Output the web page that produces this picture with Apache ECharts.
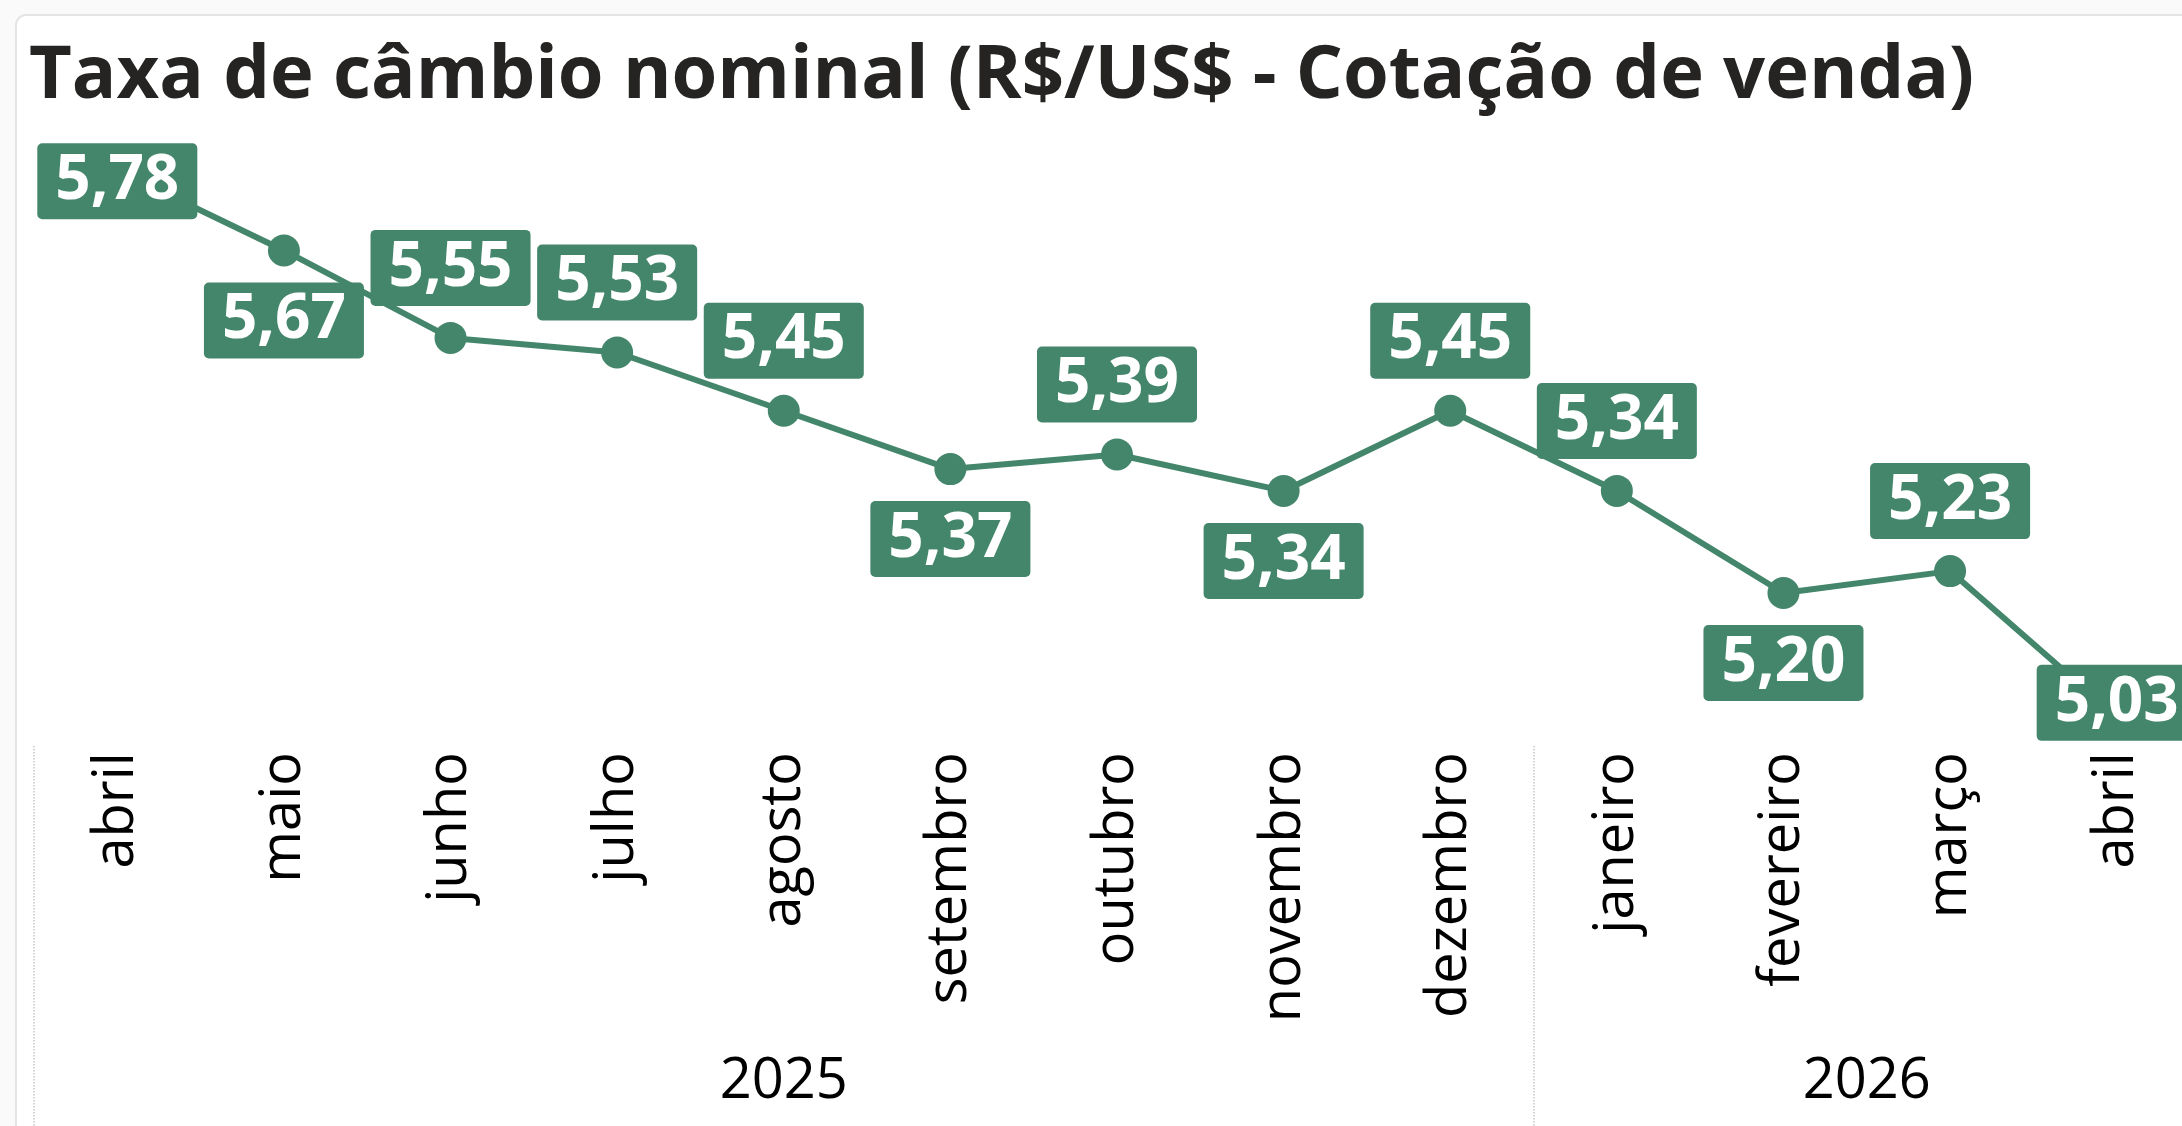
<!DOCTYPE html>
<html>
<head>
<meta charset="utf-8">
<title>Taxa de câmbio nominal</title>
<script src="https://cdn.jsdelivr.net/npm/echarts@6/dist/echarts.min.js"></script>
<style>
  html, body { margin: 0; padding: 0; background: #fafafa; overflow: hidden; }
  #chart { width: 2216px; height: 1126px; }
</style>
</head>
<body>
<div id="chart"></div>
<script>
// dados
var meses = ["abril", "maio", "junho", "julho", "agosto", "setembro", "outubro",
    "novembro", "dezembro", "janeiro", "fevereiro", "março", "abril"];
var cotacao = [5.78, 5.67, 5.55, 5.53, 5.45, 5.37, 5.39, 5.34, 5.45, 5.34, 5.20, 5.23, 5.03];
var anos = ["2025", "2026"];
var mesesPorAno = [9, 4];

var verde = "#44866c";

// onde cada ano começa/termina e o meio de cada ano no eixo de valores
var limitesAno = [], meioAno = [], ini = 0;
mesesPorAno.forEach(function (n) {
    limitesAno.push(ini - 0.5);
    meioAno.push(ini + (n - 1) / 2);
    ini += n;
});

function fmt(v) {
    return v.toFixed(2).replace(".", ",");
}

// rótulo acima, abaixo ou sobre o ponto
function ladoRotulo(i) {
    var n = cotacao.length;
    if (i == 0 || i == n - 1) return "inside";
    if (i == 1) return "bottom";
    var v = cotacao[i];
    if (v <= cotacao[i - 1] && v <= cotacao[i + 1]) return "bottom";
    return "top";
}

var dados = cotacao.map(function (v, i) {
    var lado = ladoRotulo(i);
    var item = {value: v, label: {position: lado}};
    if (lado == "inside") item.label.offset = [0, i == 0 ? 11 : -14];
    return item;
});

var chart = echarts.init(document.getElementById("chart"));
chart.setOption({
    backgroundColor: "#fafafa",
    animation: false,
    graphic: [{
        type: "rect", silent: true, z: -10,
        shape: {x: 16, y: 15, width: 2220, height: 1200, r: 10},
        style: {fill: "#ffffff", stroke: "#e4e4e4", lineWidth: 2}
    }],
    title: {
        text: "Taxa de câmbio nominal (R$/US$ - Cotação de venda)",
        left: 24, top: 35,
        textStyle: {fontFamily: "Open Sans", fontWeight: "bold", fontSize: 74, color: "#252423"}
    },
    grid: {left: 34, top: 163, right: 16, bottom: 380, containLabel: false},
    xAxis: [{
        type: "category",
        data: meses,
        boundaryGap: true,
        axisLine: {show: false},
        axisTick: {show: false},
        axisLabel: {
            rotate: 90, margin: 6, interval: 0,
            fontFamily: "Open Sans", fontSize: 56, color: "#000"
        }
    }, {
        type: "value",
        position: "bottom",
        min: -0.5, max: meses.length - 0.5,
        axisLine: {show: false},
        splitLine: {show: false},
        axisTick: {
            show: true, customValues: limitesAno, length: 400,
            lineStyle: {type: "dotted", color: "#c8c8c8", width: 1.5}
        },
        axisLabel: {
            customValues: meioAno, margin: 308,
            formatter: function (v) {
                var k = meioAno.indexOf(v);
                return k >= 0 ? anos[k] : "";
            },
            fontFamily: "Open Sans", fontSize: 56, color: "#000"
        }
    }],
    yAxis: {type: "value", min: 4.99, max: 5.79, show: false, splitLine: {show: false}},
    series: [{
        type: "line",
        xAxisIndex: 0,
        data: dados,
        symbol: "circle",
        symbolSize: 32,
        lineStyle: {color: verde, width: 6},
        itemStyle: {color: verde},
        label: {
            show: true,
            distance: 16,
            formatter: function (p) { return fmt(p.value); },
            fontFamily: "Open Sans", fontWeight: "bold", fontSize: 62, lineHeight: 64,
            color: "#fff",
            backgroundColor: verde,
            borderRadius: 5,
            padding: [6, 18]
        }
    }]
});
</script>
</body>
</html>
